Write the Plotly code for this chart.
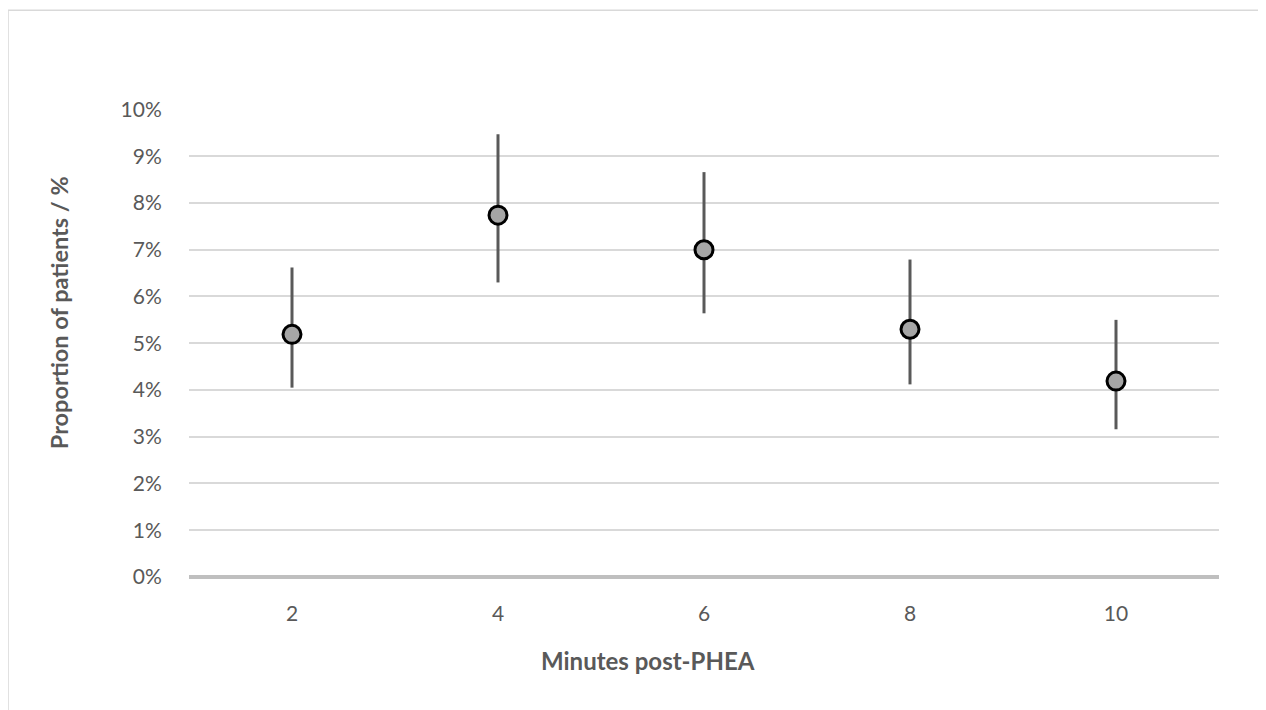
import plotly.graph_objects as go

minutes = ["2", "4", "6", "8", "10"]
proportion = [0.0519, 0.0774, 0.0700, 0.0530, 0.0419]
upper = [0.0662, 0.0947, 0.0866, 0.0679, 0.0550]
lower = [0.0405, 0.0630, 0.0564, 0.0412, 0.0316]

err_plus = [u - p for u, p in zip(upper, proportion)]
err_minus = [p - l for p, l in zip(proportion, lower)]

FONT = "Lato"
TXT = "#595959"

fig = go.Figure()
fig.add_trace(go.Scatter(
    x=minutes, y=proportion, mode="markers",
    marker=dict(size=18, color="#A6A6A6", line=dict(color="black", width=3)),
    error_y=dict(type="data", symmetric=False, array=err_plus, arrayminus=err_minus,
                 color="#595959", thickness=3, width=0),
    showlegend=False, cliponaxis=False,
))

fig.update_layout(
    width=1258, height=702,
    margin=dict(l=181, r=47, t=101, b=133),
    paper_bgcolor="white", plot_bgcolor="white",
    font=dict(family=FONT, color=TXT, size=21),
    xaxis=dict(type="category", range=[-0.5, 4.5], showgrid=False, zeroline=False,
               showline=False, ticks="outside", ticklen=18, tickcolor="rgba(0,0,0,0)",
               tickfont=dict(size=21, color=TXT)),
    yaxis=dict(range=[0, 0.1001], dtick=0.01, tickformat=".0%", showgrid=True,
               gridcolor="#D9D9D9", gridwidth=2, zeroline=True, zerolinecolor="#BFBFBF",
               zerolinewidth=4, showline=False, ticks="outside", ticklen=22,
               tickcolor="rgba(0,0,0,0)", tickfont=dict(size=21, color=TXT)),
    annotations=[
        dict(text="<b>Minutes post-PHEA</b>", xref="paper", yref="paper", x=0.4456, y=-0.1794,
             xanchor="center", yanchor="middle", showarrow=False,
             font=dict(size=24, color=TXT, family=FONT)),
        dict(text="<b>Proportion of patients / %</b>", xref="paper", yref="paper", x=-0.1267, y=0.5648,
             xanchor="center", yanchor="middle", textangle=-90, showarrow=False,
             font=dict(size=23.5, color=TXT, family=FONT)),
    ],
    shapes=[
        dict(type="line", xref="paper", yref="paper", x0=-0.1757, x1=1.06, y0=1.2108, y1=1.2108,
             line=dict(color="#D9D9D9", width=1.5)),
        dict(type="line", xref="paper", yref="paper", x0=-0.1757, x1=-0.1757, y0=1.2108, y1=-0.3,
             line=dict(color="#D9D9D9", width=1.5)),
    ],
)

fig.write_html("out.html")
